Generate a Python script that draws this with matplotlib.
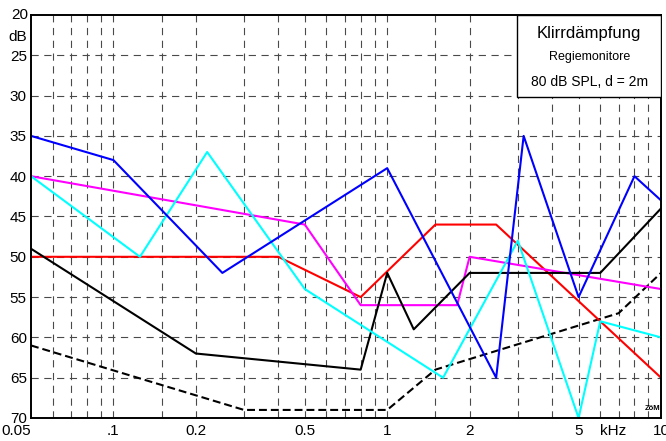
import matplotlib
matplotlib.use("Agg")
import matplotlib.pyplot as plt
from matplotlib.patches import Rectangle
from matplotlib.ticker import NullFormatter

plt.rcParams['font.family'] = ['Liberation Sans', 'DejaVu Sans']

# frequency (kHz) / distortion attenuation (dB) per curve
blue_f = [0.05, 0.1, 0.25, 1, 2.5, 3.15, 5, 8, 10]
blue_v = [35, 38, 52, 39, 65, 35, 55, 40, 43]

cyan_f = [0.05, 0.125, 0.22, 0.5, 1.6, 3, 5, 6, 10]
cyan_v = [40, 50, 37, 54, 65, 48, 70, 58, 60]

red_f = [0.05, 0.4, 0.8, 1.5, 2.5, 10]
red_v = [50, 50, 55, 46, 46, 65]

magenta_f = [0.05, 0.5, 0.8, 1.8, 2, 10]
magenta_v = [40, 46, 56, 56, 50, 54]

black_f = [0.05, 0.2, 0.8, 1, 1.25, 2, 6, 10]
black_v = [49, 62, 64, 52, 59, 52, 52, 44]

limit_f = [0.05, 0.3, 1, 1.5, 7, 10]
limit_v = [61, 69, 69, 64, 57, 52]

xtick_pos = [0.1, 0.2, 0.5, 1, 2, 5, 6.7, 10]
xtick_lab = ['.1', '0.2', '0.5', '1', '2', '5', 'kHz', '10']
ytick_pos = [22.5, 25, 30, 35, 40, 45, 50, 55, 60, 65, 70]
ytick_lab = ['dB', '25', '30', '35', '40', '45', '50', '55', '60', '65', '70']
xgrid = [0.06, 0.07, 0.08, 0.09, 0.1, 0.15, 0.2, 0.3, 0.4, 0.5, 0.6, 0.7, 0.8, 0.9,
         1, 1.5, 2, 3, 4, 5, 6, 7, 8, 9]
ygrid = [25, 30, 35, 40, 45, 50, 55, 60, 65]

fig = plt.figure(figsize=(6.66, 4.41), dpi=100)
ax = fig.add_axes([31/666, 23/441, 630/666, 403/441])

ax.set_xscale('log')
ax.set_xlim(0.05, 10)
ax.set_ylim(70, 20)

# grid on minor ticks only (keep minor ticks that sit on labelled ones)
ax.xaxis.remove_overlapping_locs = False
ax.yaxis.remove_overlapping_locs = False
ax.set_xticks(xgrid, minor=True)
ax.set_yticks(ygrid, minor=True)
ax.xaxis.set_minor_formatter(NullFormatter())
ax.yaxis.set_minor_formatter(NullFormatter())
ax.grid(which='minor', color='#4a4a4a', lw=0.8, linestyle=(0, (6.5, 5)))
ax.grid(which='major', visible=False)

ax.set_xticks(xtick_pos, xtick_lab)
ax.set_yticks(ytick_pos, ytick_lab)
ax.tick_params(which='both', length=0, labelsize=11)
ax.tick_params(axis='x', pad=4)
ax.tick_params(axis='y', pad=3)
ax.annotate('0.05', xy=(0.05, 0), xycoords=('data', 'axes fraction'),
            xytext=(-21.5, -4.5), textcoords='offset points',
            ha='left', va='top', fontsize=11)
ax.annotate('20', xy=(0, 20), xycoords=('axes fraction', 'data'),
            xytext=(-2.2, 0), textcoords='offset points',
            ha='right', va='center', fontsize=11)

for s in ax.spines.values():
    s.set_linewidth(1.4)

ax.plot(limit_f, limit_v, color='black', lw=1.5, linestyle=(0, (3.8, 1.9)))
ax.plot(red_f, red_v, color='#ff0000', lw=1.5)
ax.plot(magenta_f, magenta_v, color='#ff00ff', lw=1.5)
ax.plot(black_f, black_v, color='black', lw=1.5)
ax.plot(cyan_f, cyan_v, color='#00ffff', lw=1.5)
ax.plot(blue_f, blue_v, color='#0000ff', lw=1.5)

# title box
ax.add_patch(Rectangle((0.771, 0.7965), 0.229, 0.2035, transform=ax.transAxes,
                       facecolor='white', edgecolor='black', lw=1.0, zorder=5))
ax.text(0.886, 0.955, 'Klirrdämpfung', transform=ax.transAxes, ha='center',
        va='center', fontsize=12, zorder=6)
ax.text(0.886, 0.896, 'Regiemonitore', transform=ax.transAxes, ha='center',
        va='center', fontsize=9, zorder=6)
ax.text(0.886, 0.834, '80 dB SPL, d = 2m', transform=ax.transAxes, ha='center',
        va='center', fontsize=10, zorder=6)

ax.text(9.3, 69.3, 'ZöM', fontsize=5.5, fontweight='bold', ha='center',
        va='bottom', zorder=6)

fig.savefig('out.png', dpi=100)
